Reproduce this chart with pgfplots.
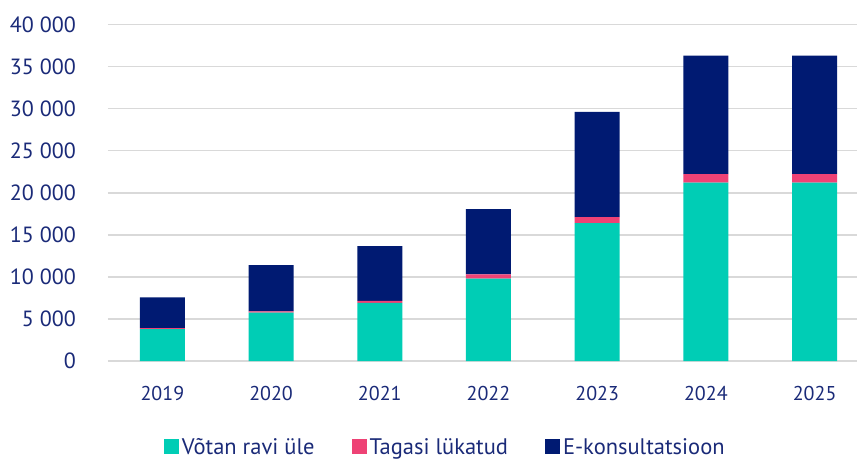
\documentclass[border=0pt]{standalone}
\usepackage{fontspec}
\setmainfont{PT Sans}
\usepackage{pgfplots}
\pgfplotsset{compat=1.18}

\definecolor{teal1}{HTML}{00CDB5}
\definecolor{pink1}{HTML}{EE4275}
\definecolor{navy1}{HTML}{001A72}
\definecolor{txt}{HTML}{1A2A78}
\definecolor{gridc}{HTML}{D9D9D9}

\begin{document}
\begin{tikzpicture}
\useasboundingbox (-108pt,-98pt) rectangle (749pt,361pt);
\begin{axis}[
    at={(0pt,0pt)}, anchor=south west,
    scale only axis,
    width=749pt, height=336.5pt,
    ybar stacked, bar width=45pt,
    xmin=-0.5, xmax=6.39,
    ymin=0, ymax=40000,
    xtick=data,
    xticklabels={2019,2020,2021,2022,2023,2024,2025},
    ytick={0,5000,10000,15000,20000,25000,30000,35000,40000},
    scaled y ticks=false,
    /pgf/number format/.cd, 1000 sep={\ }, assume math mode=true,
    /pgfplots/.cd,
    ymajorgrids,
    major grid style={draw=gridc, line width=1.5pt},
    axis line style={draw=none},
    tick style={draw=none},
    yticklabel style={anchor=east, inner sep=0pt, xshift=-32pt, text=txt, font=\fontsize{22}{26}\selectfont},
    xticklabel style={anchor=north, inner sep=0pt, yshift=-25pt, text=txt, font=\fontsize{20}{24}\selectfont},
    legend columns=3,
    legend style={at={(0.451,-0.255)}, anchor=center, draw=none, fill=none,
        inner sep=0pt,
        font=\fontsize{22.5}{25}\selectfont, text=txt,
        nodes={inner xsep=3pt, inner ysep=0pt},
        /tikz/every even column/.append style={column sep=34pt}},
    legend image code/.code={\path[#1] (0pt,-7.5pt) rectangle (15pt,7.5pt);},
]
\addplot[fill=teal1, draw=none] coordinates {(0,3800) (1,5750) (2,6900) (3,9800) (4,16400) (5,21200) (6,21200)};
\addplot[fill=pink1, draw=none] coordinates {(0,100) (1,150) (2,250) (3,500) (4,700) (5,1000) (6,1000)};
\addplot[fill=navy1, draw=none] coordinates {(0,3650) (1,5500) (2,6500) (3,7750) (4,12500) (5,14100) (6,14100)};
\legend{Võtan ravi üle, Tagasi lükatud, E-konsultatsioon}
\end{axis}
\end{tikzpicture}
\end{document}
